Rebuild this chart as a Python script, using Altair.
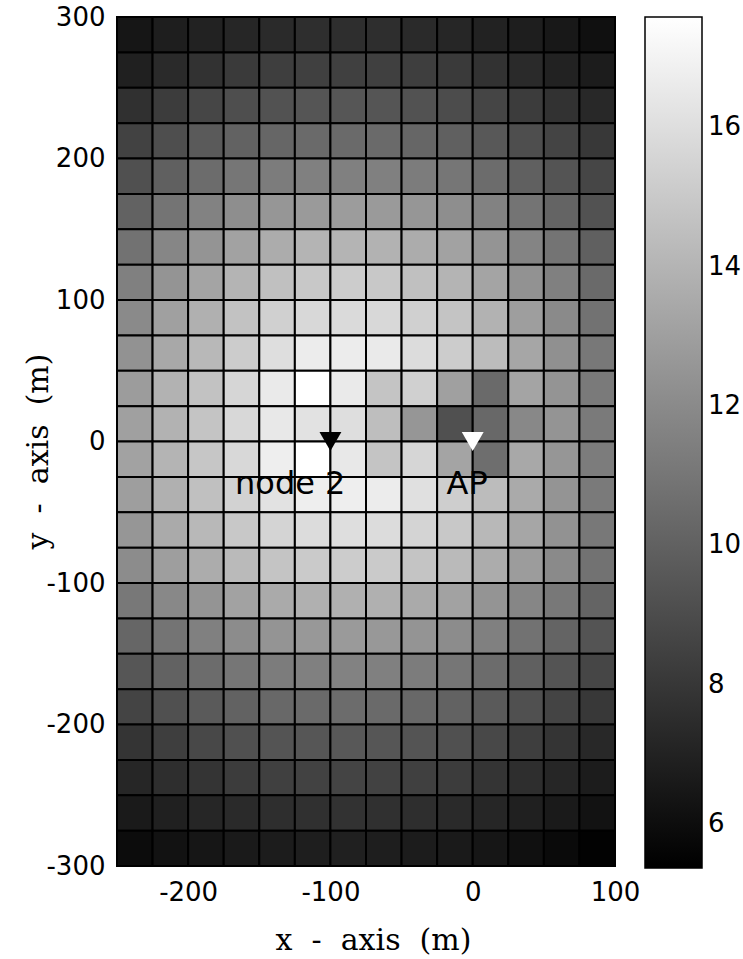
import altair as alt
import pandas as pd

# cell left edges (x) and top edges (y), metres
x_left = [-250, -225, -200, -175, -150, -125, -100, -75, -50, -25, 0, 25, 50, 75]
y_top = [300, 275, 250, 225, 200, 175, 150, 125, 100, 75, 50, 25, 0,
         -25, -50, -75, -100, -125, -150, -175, -200, -225, -250, -275]
cell = 25

# cell values (colour scale units), one list per row, top to bottom
row_300 = [6.42, 6.81, 7.00, 7.19, 7.38, 7.57, 7.57, 7.57, 7.38, 7.19, 7.00, 6.81, 6.52, 6.14]
row_275 = [6.90, 7.38, 7.76, 8.15, 8.34, 8.43, 8.43, 8.43, 8.34, 8.15, 7.76, 7.38, 7.00, 6.71]
row_250 = [7.67, 8.24, 8.72, 9.10, 9.30, 9.44, 9.49, 9.44, 9.30, 9.01, 8.67, 8.24, 7.76, 7.29]
row_225 = [8.53, 9.10, 9.68, 10.06, 10.25, 10.45, 10.45, 10.45, 10.25, 9.97, 9.58, 9.10, 8.63, 8.05]
row_200 = [9.20, 9.97, 10.54, 11.02, 11.31, 11.50, 11.50, 11.50, 11.31, 11.02, 10.54, 9.97, 9.39, 8.72]
row_175 = [10.06, 10.92, 11.59, 12.17, 12.55, 12.74, 12.84, 12.74, 12.55, 12.17, 11.59, 10.92, 10.16, 9.30]
row_150 = [10.83, 11.79, 12.46, 13.13, 13.61, 13.99, 13.99, 13.89, 13.61, 13.13, 12.46, 11.69, 10.92, 9.97]
row_125 = [11.50, 12.46, 13.22, 13.99, 14.56, 14.95, 15.14, 14.95, 14.56, 13.99, 13.22, 12.36, 11.50, 10.45]
row_100 = [11.98, 13.03, 13.80, 14.66, 15.33, 15.71, 15.81, 15.71, 15.33, 14.75, 13.89, 12.93, 11.98, 10.83]
row_75 = [12.36, 13.41, 14.18, 15.14, 16.00, 16.67, 16.67, 16.57, 15.90, 15.14, 14.37, 13.32, 12.26, 11.12]
row_50 = [12.84, 13.89, 14.66, 15.62, 16.57, 17.58, 16.57, 14.75, 15.33, 13.03, 10.45, 13.22, 12.46, 11.21]
row_25 = [13.03, 13.89, 14.75, 15.71, 16.48, 16.19, 16.00, 14.47, 12.55, 9.20, 10.35, 11.88, 12.46, 11.21]
row_0 = [13.13, 13.99, 14.85, 15.71, 16.77, 17.58, 16.48, 14.75, 15.62, 13.22, 10.64, 13.41, 12.55, 11.31]
row_m25 = [12.93, 13.80, 14.56, 15.42, 16.19, 16.77, 16.77, 16.67, 16.10, 15.23, 14.37, 13.51, 12.46, 11.21]
row_m50 = [12.55, 13.51, 14.18, 14.95, 15.52, 15.90, 16.00, 15.90, 15.52, 14.95, 14.18, 13.32, 12.36, 11.12]
row_m75 = [12.07, 12.93, 13.61, 14.28, 14.75, 15.04, 15.14, 15.04, 14.75, 14.28, 13.61, 12.84, 11.98, 10.83]
row_m100 = [11.12, 11.88, 12.46, 13.13, 13.51, 13.80, 13.80, 13.80, 13.51, 13.13, 12.46, 11.79, 11.12, 10.16]
row_m125 = [10.25, 10.92, 11.50, 12.07, 12.46, 12.65, 12.74, 12.65, 12.46, 12.07, 11.50, 10.83, 10.16, 9.39]
row_m150 = [9.49, 10.06, 10.54, 11.02, 11.31, 11.50, 11.59, 11.50, 11.31, 11.02, 10.54, 9.97, 9.39, 8.72]
row_m175 = [8.63, 9.20, 9.68, 10.06, 10.35, 10.45, 10.54, 10.45, 10.35, 10.06, 9.68, 9.20, 8.63, 8.05]
row_m200 = [7.86, 8.34, 8.82, 9.20, 9.39, 9.49, 9.58, 9.49, 9.39, 9.20, 8.82, 8.34, 7.86, 7.29]
row_m225 = [7.19, 7.57, 7.86, 8.24, 8.43, 8.53, 8.63, 8.53, 8.43, 8.24, 7.86, 7.57, 7.19, 6.71]
row_m250 = [6.61, 6.90, 7.19, 7.38, 7.57, 7.67, 7.76, 7.67, 7.57, 7.38, 7.19, 6.90, 6.61, 6.23]
row_m275 = [5.94, 6.23, 6.42, 6.61, 6.71, 6.81, 6.90, 6.81, 6.71, 6.61, 6.42, 6.14, 5.85, 5.47]

rows = [row_300, row_275, row_250, row_225, row_200, row_175, row_150, row_125,
        row_100, row_75, row_50, row_25, row_0, row_m25, row_m50, row_m75,
        row_m100, row_m125, row_m150, row_m175, row_m200, row_m225, row_m250, row_m275]

# color scale limits and colorbar ticks
c_min, c_max = 5.37, 17.58
cbar_ticks = [6, 8, 10, 12, 14, 16]

# axis ticks and titles
x_ticks = [-200, -100, 0, 100]
y_ticks = [-300, -200, -100, 0, 100, 200, 300]
x_title = "x\u00a0\u00a0-\u00a0\u00a0axis\u00a0\u00a0(m)"
y_title = "y\u00a0\u00a0-\u00a0\u00a0axis\u00a0\u00a0(m)"

# markers
node_names = ["node 2", "AP"]
node_x = [-100, 0]
node_y = [0, 0]
node_fill = ["black", "white"]

records = []
for yt, vals in zip(y_top, rows):
    for xl, v in zip(x_left, vals):
        records.append({"x": xl, "x2": xl + cell, "y": yt - cell, "y2": yt, "v": v})
cells = pd.DataFrame(records)
nodes = pd.DataFrame({"name": node_names, "x": node_x, "y": node_y, "fill": node_fill})

xscale = alt.Scale(domain=[-250, 100], nice=False, zero=False)
yscale = alt.Scale(domain=[-300, 300], nice=False, zero=False)

label_font = "DejaVu Sans"
title_font = "DejaVu Serif"
hyphen_labels = "'' + datum.value"

heat = alt.Chart(cells).mark_rect(stroke="black", strokeWidth=2).encode(
    x=alt.X("x:Q", scale=xscale, title=x_title,
            axis=alt.Axis(values=x_ticks, ticks=False, domain=False, grid=False,
                          labelExpr=hyphen_labels,
                          labelFont=label_font, labelFontSize=26, labelColor="black",
                          labelPadding=13, labelFlush=False,
                          titleFont=title_font, titleFontSize=30, titleFontWeight="normal",
                          titleColor="black", titleX=256, titleY=74, titleBaseline="middle",
                          titleAlign="center")),
    x2="x2:Q",
    y=alt.Y("y:Q", scale=yscale, title=y_title,
            axis=alt.Axis(values=y_ticks, ticks=False, domain=False,
                          grid=False, labelExpr=hyphen_labels,
                          labelFont=label_font, labelFontSize=26, labelColor="black",
                          labelPadding=12, labelFlush=False,
                          titleFont=title_font, titleFontSize=30, titleFontWeight="normal",
                          titleColor="black", titleX=-79, titleY=434, titleBaseline="middle",
                          titleAlign="center", titleAngle=270)),
    y2="y2:Q",
    color=alt.Color("v:Q",
                    scale=alt.Scale(domain=[c_min, c_max], range=["black", "white"], interpolate="rgb"),
                    legend=alt.Legend(title=None, orient="right", offset=30, padding=0,
                                      direction="vertical", gradientLength=851,
                                      gradientThickness=57, gradientStrokeColor="black",
                                      gradientStrokeWidth=1.5, values=cbar_ticks,
                                      labelFont=label_font, labelFontSize=26,
                                      labelColor="black", labelOffset=6)),
)

marks = alt.Chart(nodes).mark_point(shape="triangle-down", filled=True, size=480, opacity=1).encode(
    x=alt.X("x:Q", scale=xscale),
    y=alt.Y("y:Q", scale=yscale),
    fill=alt.Fill("fill:N", scale=None),
    stroke=alt.value("black"),
    strokeWidth=alt.value(0),
)

labels = alt.Chart(nodes).mark_text(align="right", baseline="alphabetic", dx=15, dy=52,
                                     font=label_font, fontSize=32, color="black").encode(
    x=alt.X("x:Q", scale=xscale),
    y=alt.Y("y:Q", scale=yscale),
    text="name:N",
)

chart = alt.layer(heat, marks, labels).properties(
    width=498, height=849,
    autosize=alt.AutoSizeParams(type="none"),
    padding={"left": 117, "top": 17, "right": 128, "bottom": 93},
    background="white",
).configure_view(strokeWidth=0)

chart.save("out.html", embed_options={"renderer": "svg", "actions": False})
